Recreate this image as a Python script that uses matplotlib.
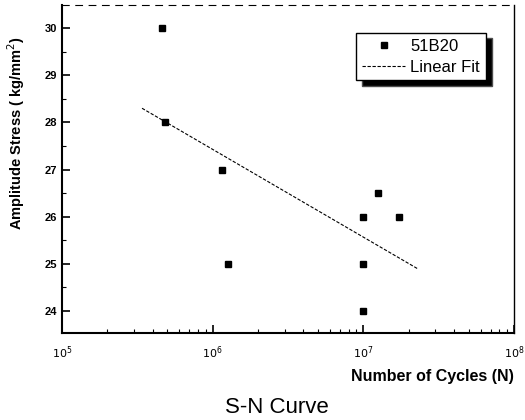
import matplotlib
matplotlib.use('Agg')
from matplotlib import pyplot as plt
from matplotlib.ticker import FixedLocator, LogLocator, NullFormatter
import numpy as np

plt.rcParams['font.family'] = ['Liberation Sans', 'DejaVu Sans']

# 51B20 test points
cycles = [4.6e5, 4.8e5, 1.16e6, 1.26e6, 1.0e7, 1.26e7, 1.73e7, 1.0e7, 1.0e7]
stress = [30, 28, 27, 25, 26, 26.5, 26, 25, 24]

# linear fit end points
fit_x = [3.4e5, 2.28e7]
fit_y = [28.3, 24.9]

yticks = [24, 25, 26, 27, 28, 29, 30]
xticks = [1e5, 1e6, 1e7, 1e8]
xtick_labels = ['$10^5$', '$10^6$', '$10^7$', '$10^8$']

fig = plt.figure(figsize=(5.25, 4.2), dpi=100)
ax = fig.add_axes([0.118, 0.207, 0.861, 0.781])

ax.plot(cycles, stress, 's', color='black', markersize=5, label='51B20')
ax.plot(fit_x, fit_y, color='black', linewidth=0.8, linestyle=(0, (3, 1.5)),
        label='Linear Fit')

ax.set_xscale('log')
ax.set_xlim(1e5, 1e8)
ax.set_ylim(23.53, 30.49)
ax.set_xticks(xticks)
ax.set_xticklabels(xtick_labels)
ax.xaxis.set_minor_locator(LogLocator(base=10, subs=np.arange(2, 10)))
ax.xaxis.set_minor_formatter(NullFormatter())
ax.set_yticks(yticks)
ax.yaxis.set_minor_locator(FixedLocator(np.arange(23.5, 30.6, 0.5)))

ax.tick_params(which='both', direction='in', top=False, right=False,
               labelsize=8)
ax.tick_params(which='major', length=6, width=1.2)
ax.tick_params(which='minor', length=3, width=0.8)
for lab in ax.get_xticklabels() + ax.get_yticklabels():
    lab.set_fontweight('bold')
ax.tick_params(axis='x', pad=8)

for side in ['left', 'bottom']:
    ax.spines[side].set_linewidth(1.5)
ax.spines['top'].set_linewidth(0.8)
ax.spines['top'].set_linestyle((0, (6, 6)))
ax.spines['right'].set_linewidth(1.0)

ax.set_ylabel('Amplitude Stress ( kg/mm$^2$)', fontsize=10.5, fontweight='bold')
ax.yaxis.set_label_coords(-0.078, 0.61)
ax.set_xlabel('Number of Cycles (N)', fontsize=11.5, fontweight='bold',
              ha='right')
ax.xaxis.set_label_coords(1.0, -0.11)

leg = ax.legend(loc='upper right', bbox_to_anchor=(0.938, 0.915),
                borderaxespad=0, fancybox=False, fontsize=12,
                shadow={'ox': 4, 'oy': -4, 'facecolor': 'black', 'alpha': 1},
                handlelength=2.6, handletextpad=0.3, borderpad=0.35,
                labelspacing=0.35)
leg.get_frame().set_edgecolor('black')
leg.get_frame().set_linewidth(1.0)

fig.text(0.528, 0.016, 'S-N Curve', ha='center', fontsize=16)

fig.savefig('out.png', dpi=100)
